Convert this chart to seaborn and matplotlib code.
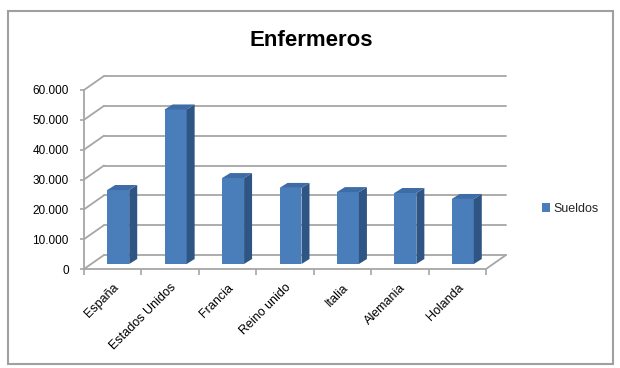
import matplotlib
matplotlib.use("Agg")
import matplotlib.pyplot as plt
import seaborn as sns
import numpy as np
from matplotlib.patches import Polygon, Rectangle, Patch
from matplotlib.transforms import ScaledTranslation
from matplotlib.ticker import FuncFormatter, FixedLocator

paises = ["España", "Estados Unidos", "Francia", "Reino unido", "Italia", "Alemania", "Holanda"]
sueldos = [24800, 51800, 28800, 25500, 24100, 23800, 21800]
y_ticks = [0, 10000, 20000, 30000, 40000, 50000, 60000]
titulo = "Enfermeros"
serie = "Sueldos"

sns.set_theme(style="white")
plt.rcParams["font.family"] = ["Liberation Sans", "DejaVu Sans"]

W, H = 620, 368
DPI = 100
fig = plt.figure(figsize=(W / DPI, H / DPI), dpi=DPI)
fig.patch.set_facecolor("white")

# front plane of the plot in pixels
x0, x1 = 84, 486
y0, y1 = 269, 90
ax = fig.add_axes([x0 / W, 1 - y0 / H, (x1 - x0) / W, (y0 - y1) / H])
ax.set_facecolor("none")

front = "#4A7EBB"
side = "#2F5585"
top = "#3D6CA6"
grid = "#A6A6A6"

sns.barplot(x=paises, y=sueldos, color=front, width=0.383, ax=ax, saturation=1, zorder=3)
ax.set_xlim(-0.5, len(paises) - 0.5)
ax.set_ylim(0, 60000)

px_per_cat = (x1 - x0) / len(paises)
px_per_val = (y0 - y1) / 60000.0

# back wall depth
wall_dx, wall_dy = 20, 14
dxd = wall_dx / px_per_cat
dyd = wall_dy / px_per_val
for v in y_ticks:
    ax.plot([-0.5 + dxd, len(paises) - 0.5 + dxd], [v + dyd, v + dyd], color=grid, lw=1.3, clip_on=False, zorder=1)
    ax.plot([-0.5, -0.5 + dxd], [v, v + dyd], color=grid, lw=1.3, clip_on=False, zorder=1)
ax.plot([len(paises) - 0.5, len(paises) - 0.5 + dxd], [0, dyd], color=grid, lw=1.3, clip_on=False, zorder=1)

# bars: shift into mid depth and add 3D faces
shift = ScaledTranslation(5.5 / DPI, 5 / DPI, fig.dpi_scale_trans)
tr = ax.transData + shift
bdx = 8 / px_per_cat
bdy = 5 / px_per_val
for p in ax.patches:
    p.set_transform(tr)
    p.set_edgecolor("none")
    x, w, h = p.get_x(), p.get_width(), p.get_height()
    sidep = Polygon([[x + w, 0], [x + w + bdx, bdy], [x + w + bdx, h + bdy], [x + w, h]],
                    closed=True, facecolor=side, edgecolor="none", transform=tr, clip_on=False, zorder=3)
    topp = Polygon([[x, h], [x + bdx, h + bdy], [x + w + bdx, h + bdy], [x + w, h]],
                   closed=True, facecolor=top, edgecolor="none", transform=tr, clip_on=False, zorder=3)
    ax.add_patch(sidep)
    ax.add_patch(topp)
for p in ax.patches:
    p.set_clip_on(False)

# spines / ticks
for s in ["top", "right"]:
    ax.spines[s].set_visible(False)
for s in ["left", "bottom"]:
    ax.spines[s].set_color(grid)
    ax.spines[s].set_linewidth(1.3)
ax.yaxis.set_major_locator(FixedLocator(y_ticks))
ax.yaxis.set_major_formatter(FuncFormatter(lambda v, _: f"{int(v):,}".replace(",", ".")))
ax.tick_params(axis="y", which="major", left=True, length=3, width=1.2, color=grid, pad=8,
               labelsize=8.5, labelcolor="black")
ax.set_xticks(range(len(paises)))
ax.set_xticklabels(paises, rotation=45, ha="right", rotation_mode="anchor", fontsize=9)
ax.tick_params(axis="x", which="major", length=0, pad=9, labelcolor="black")
ax.set_xticks(np.arange(-0.5, len(paises), 1.0), minor=True)
ax.tick_params(axis="x", which="minor", bottom=True, length=4, width=1.2, color=grid)
ax.set_xlabel("")
ax.set_ylabel("")

# title
fig.text(311 / W, 1 - 46 / H, titulo, ha="center", va="baseline", fontsize=16, fontweight="bold", color="black")

# legend
ax.legend(handles=[Patch(facecolor=front, edgecolor="none")], labels=[serie],
          loc="center left", bbox_to_anchor=(542 / W, 1 - 209 / H), bbox_transform=fig.transFigure,
          frameon=False, handlelength=0.65, handleheight=0.65, handletextpad=0.3,
          borderpad=0, borderaxespad=0, fontsize=9)

# outer border
fig.patches.append(Rectangle((7.5 / W, 1 - 364 / H), (613 - 7.5) / W, (364 - 11) / H,
                             transform=fig.transFigure, fill=False, edgecolor="#A0A0A0", lw=1.5))

fig.savefig("out.png", dpi=DPI, facecolor="white")
